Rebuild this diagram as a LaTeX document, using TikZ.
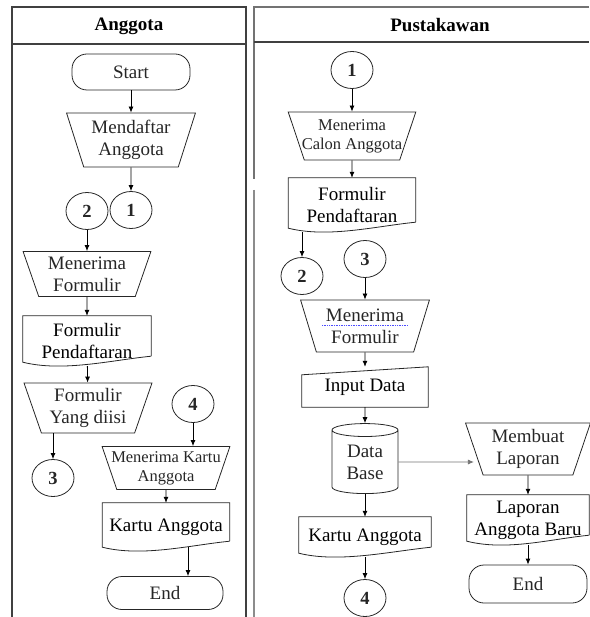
\documentclass[tikz,border=0pt]{standalone}
\usepackage{fontspec}
\setmainfont{Liberation Serif}
\usetikzlibrary{shapes.geometric,arrows.meta}

\begin{document}
\begin{tikzpicture}[x=1pt,y=-1pt,
    >={Latex[length=6pt,width=5pt]},
    font=\fontsize{19}{22}\selectfont,
    every node/.style={align=center,inner sep=0pt},
    shapeline/.style={line width=0.8pt,black!85},
    terminal/.style={draw,shapeline,rounded corners=15pt,minimum width=118pt,minimum height=36pt},
    manual/.style={draw,shapeline,trapezium,trapezium stretches=true,trapezium left angle=110,trapezium right angle=110,minimum width=128pt,minimum height=50pt},
    small/.style={font=\fontsize{16.5}{19}\selectfont,inner xsep=-14pt},
    conn/.style={draw,shapeline,ellipse,minimum width=42pt,minimum height=37pt,font=\fontsize{18.5}{22}\selectfont\bfseries},
    docu/.style={minimum width=128pt,minimum height=48pt},
    lane/.style={line width=1.6pt,black!75},
    flow/.style={->,line width=0.8pt}]
    \useasboundingbox (0,0) rectangle (589,617);

    \draw[lane] (246,617) -- (246,7) -- (12,7) -- (12,617);
    \draw[lane] (12,44) -- (246,44);
    \draw[lane,black!55] (589,7) -- (254,7) -- (254,179);
    \draw[lane,black!45] (254,190) -- (254,617);
    \draw[lane] (254,42) -- (589,42);
    \node (hA) at (129,26) {\bfseries Anggota};
    \node (hP) at (440,25) {\bfseries Pustakawan};

    \node[terminal] (startA) at (131,72) {Start};
    \node[manual,minimum width=129pt,minimum height=54pt] (daftar) at (131,140) {Mendaftar\\Anggota};
    \node[conn] (c1A) at (131,210) {1};
    \node[conn] (c2A) at (87,211) {2};
    \node[manual,minimum height=45pt] (terimaFormA) at (87,274) {Menerima\\Formulir};
    \node[docu,minimum height=50pt] (formA) at (87,341) {Formulir\\Pendaftaran};
    \node[manual,minimum height=50pt] (diisi) at (88,408) {Formulir\\Yang diisi};
    \node[conn] (c3A) at (53,478) {3};
    \node[conn] (c4A) at (193,404) {4};
    \node[manual,small,minimum height=43pt] (terimaKartu) at (166,468) {Menerima Kartu\\Anggota};
    \node[docu,minimum width=127pt,minimum height=48pt] (kartuA) at (166,527) {Kartu Anggota};
    \node[terminal,minimum width=116pt,minimum height=33pt] (endA) at (165,593) {End};

    \node[conn] (c1P) at (352,70) {1};
    \node[manual,small,minimum height=48pt] (terimaCalon) at (352,136) {Menerima\\Calon Anggota};
    \node[docu,minimum width=127pt,minimum height=54pt] (formP) at (352,205) {Formulir\\Pendaftaran};
    \node[conn] (c2P) at (302,276) {2};
    \node[conn] (c3P) at (365,259) {3};
    \node[manual,minimum width=129pt,minimum height=52pt] (terimaFormP) at (365,326) {Menerima\\Formulir};
    \node[minimum width=126pt,minimum height=40pt] (input) at (365,387) {Input Data};
    \node[draw,shapeline,cylinder,shape border rotate=90,aspect=0.35,minimum width=66pt,minimum height=70pt] (db) at (365,462) {Data\\Base};
    \node[docu,minimum width=132pt,minimum height=40pt] (kartuP) at (365,537) {Kartu Anggota};
    \node[conn] (c4P) at (365,598) {4};
    \node[manual,minimum width=125pt,minimum height=52pt] (laporan) at (528,449) {Membuat\\Laporan};
    \node[docu,minimum width=122pt,minimum height=50pt] (laporanBaru) at (528,520) {Laporan\\Anggota Baru};
    \node[terminal,minimum height=38pt] (endP) at (528,584) {End};

    \foreach \d in {formA,kartuA,formP,kartuP,laporanBaru}
        \draw[shapeline] ([yshift=10pt]\d.south east) -- (\d.north east) -- (\d.north west) -- ([yshift=4pt]\d.south west)
            .. controls ([shift={(40pt,-6pt)}]\d.south west) and ([shift={(-40pt,6pt)}]\d.south east) .. ([yshift=10pt]\d.south east);
    \draw[shapeline] (input.south west) -- ([yshift=-8pt]input.north west) -- (input.north east) -- (input.south east) -- cycle;
    \draw[blue!70,densely dotted,line width=0.7pt] ([shift={(-43pt,1pt)}]terimaFormP.center) -- ++(86pt,0pt);

    \draw[flow] (startA) -- (daftar);
    \draw[flow] (daftar) -- (c1A);
    \draw[flow] (c2A) -- (terimaFormA);
    \draw[flow] (terimaFormA) -- (formA);
    \draw[flow] (formA) -- (diisi);
    \draw[flow] (c3A |- diisi.south) -- (c3A);
    \draw[flow] (c4A) -- (c4A |- terimaKartu.north);
    \draw[flow] (terimaKartu) -- (kartuA);
    \draw[flow] ([xshift=22pt,yshift=4pt]kartuA.south) -- ([xshift=22pt]kartuA.south |- endA.north);

    \draw[flow] (c1P) -- (terimaCalon);
    \draw[flow] (terimaCalon) -- (formP);
    \draw[flow] (formP.south -| c2P) -- (c2P);
    \draw[flow] (c3P) -- (terimaFormP);
    \draw[flow] (terimaFormP) -- (input);
    \draw[flow] (input) -- (db);
    \draw[flow] (db) -- (kartuP);
    \draw[flow] (kartuP) -- (c4P);
    \draw[flow,black!55] (db) -- (db -| laporan.west);
    \draw[flow] (laporan) -- (laporanBaru);
    \draw[flow] (laporanBaru) -- (endP);
\end{tikzpicture}
\end{document}
